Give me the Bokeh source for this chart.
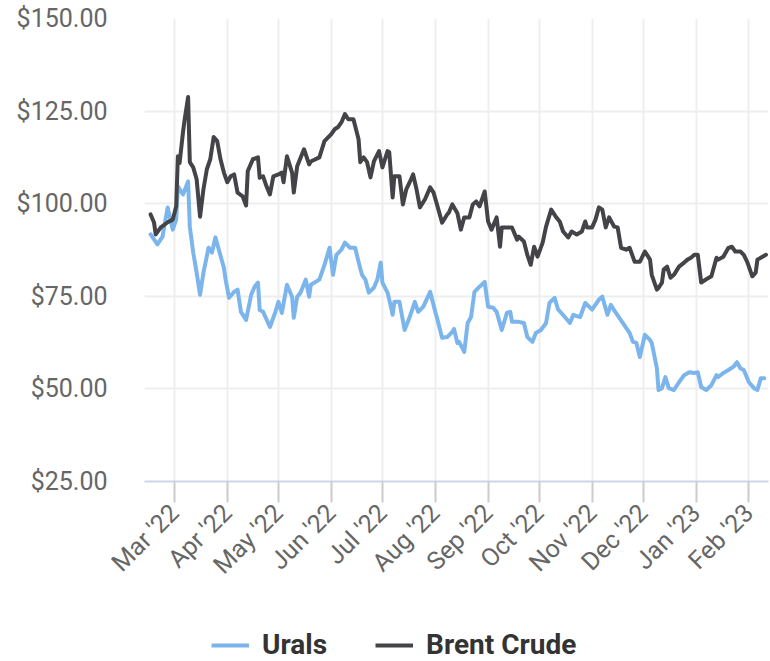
import pandas as pd
from bokeh.plotting import figure
from bokeh.layouts import column
from bokeh.models import (Range1d, MonthsTicker, DatetimeTickFormatter, NumeralTickFormatter,
                          FixedTicker, Legend, LegendItem, ColumnDataSource)
from bokeh.embed import file_html
from bokeh.resources import INLINE

# ---------------- data ----------------
urals_dates = [
    "2022-02-15", "2022-02-19", "2022-02-22", "2022-02-25", "2022-02-27", "2022-02-28", "2022-03-02",
    "2022-03-03", "2022-03-06", "2022-03-09", "2022-03-10", "2022-03-12", "2022-03-14", "2022-03-16",
    "2022-03-18", "2022-03-21", "2022-03-23", "2022-03-25", "2022-03-27", "2022-03-30", "2022-03-31",
    "2022-04-02", "2022-04-05", "2022-04-07", "2022-04-09", "2022-04-12", "2022-04-15", "2022-04-17",
    "2022-04-19", "2022-04-20", "2022-04-22", "2022-04-26", "2022-04-29", "2022-05-01", "2022-05-03",
    "2022-05-06", "2022-05-09", "2022-05-10", "2022-05-12", "2022-05-14", "2022-05-17", "2022-05-19",
    "2022-05-20", "2022-05-25", "2022-05-28", "2022-05-31", "2022-06-02", "2022-06-04", "2022-06-07",
    "2022-06-09", "2022-06-12", "2022-06-15", "2022-06-17", "2022-06-19", "2022-06-21", "2022-06-23",
    "2022-06-26", "2022-06-28", "2022-06-30", "2022-07-01", "2022-07-04", "2022-07-05", "2022-07-07",
    "2022-07-08", "2022-07-11", "2022-07-14", "2022-07-17", "2022-07-20", "2022-07-22", "2022-07-25",
    "2022-07-29", "2022-08-01", "2022-08-02", "2022-08-05", "2022-08-08", "2022-08-11", "2022-08-12",
    "2022-08-14", "2022-08-15", "2022-08-18", "2022-08-20", "2022-08-22", "2022-08-24", "2022-08-27",
    "2022-08-30", "2022-09-01", "2022-09-04", "2022-09-06", "2022-09-09", "2022-09-12", "2022-09-14",
    "2022-09-15", "2022-09-19", "2022-09-22", "2022-09-24", "2022-09-27", "2022-09-29", "2022-10-02",
    "2022-10-05", "2022-10-07", "2022-10-10", "2022-10-12", "2022-10-16", "2022-10-19", "2022-10-21",
    "2022-10-25", "2022-10-28", "2022-11-01", "2022-11-05", "2022-11-07", "2022-11-10", "2022-11-12",
    "2022-11-15", "2022-11-19", "2022-11-23", "2022-11-25", "2022-11-27", "2022-11-29", "2022-12-02",
    "2022-12-05", "2022-12-06", "2022-12-09", "2022-12-10", "2022-12-12", "2022-12-14", "2022-12-16",
    "2022-12-19", "2022-12-22", "2022-12-25", "2022-12-28", "2022-12-31", "2023-01-02", "2023-01-04",
    "2023-01-07", "2023-01-10", "2023-01-13", "2023-01-14", "2023-01-17", "2023-01-20", "2023-01-23",
    "2023-01-25", "2023-01-27", "2023-01-29", "2023-02-01", "2023-02-04", "2023-02-06", "2023-02-08",
    "2023-02-10",
]
urals_values = [
    91.7, 89.0, 91.1, 99.0, 94.9, 93.0, 95.7,
    104.7, 102.5, 106.0, 93.8, 86.8, 81.4, 75.4,
    81.4, 88.1, 86.8, 90.9, 87.6, 82.7, 79.5,
    74.6, 76.2, 76.8, 70.8, 68.6, 75.4, 77.6,
    78.7, 71.3, 70.8, 66.7, 70.5, 73.5, 70.5,
    78.1, 74.9, 69.2, 74.9, 76.0, 79.5, 74.9,
    78.1, 79.5, 83.5, 88.1, 80.8, 86.2, 87.6,
    89.5, 88.1, 88.1, 84.3, 80.8, 79.5, 76.0,
    77.3, 79.5, 84.1, 78.7, 76.0, 74.1, 70.0,
    73.5, 73.5, 65.9, 69.4, 73.5, 70.8, 72.2,
    76.2, 70.8, 69.2, 63.8, 64.0, 65.4, 66.2,
    62.4, 62.7, 60.0, 67.8, 69.4, 76.2, 77.6,
    78.9, 72.2, 71.9, 70.8, 65.9, 70.5, 70.8,
    68.1, 68.1, 67.8, 64.0, 62.7, 65.1, 65.9,
    67.8, 73.2, 74.6, 71.5, 69.4, 67.8, 70.0,
    69.4, 73.2, 71.4, 74.1, 74.9, 70.0, 72.7,
    70.5, 67.8, 65.1, 62.7, 62.4, 58.6, 64.6,
    63.2, 62.4, 55.6, 49.7, 50.2, 53.2, 50.2,
    49.7, 51.8, 53.7, 54.5, 54.3, 54.5, 50.5,
    49.7, 51.0, 53.7, 53.2, 54.3, 55.1, 56.0,
    57.2, 55.6, 55.1, 51.8, 50.2, 49.7, 52.9,
    52.9,
]

brent_dates = [
    "2022-02-15", "2022-02-17", "2022-02-18", "2022-02-21", "2022-02-25", "2022-02-28", "2022-03-02",
    "2022-03-03", "2022-03-04", "2022-03-06", "2022-03-07", "2022-03-09", "2022-03-10", "2022-03-12",
    "2022-03-14", "2022-03-16", "2022-03-18", "2022-03-20", "2022-03-22", "2022-03-24", "2022-03-26",
    "2022-03-28", "2022-03-30", "2022-04-01", "2022-04-03", "2022-04-05", "2022-04-07", "2022-04-10",
    "2022-04-12", "2022-04-13", "2022-04-16", "2022-04-19", "2022-04-20", "2022-04-22", "2022-04-24",
    "2022-04-26", "2022-04-28", "2022-05-01", "2022-05-03", "2022-05-04", "2022-05-06", "2022-05-09",
    "2022-05-10", "2022-05-12", "2022-05-16", "2022-05-19", "2022-05-20", "2022-05-25", "2022-05-28",
    "2022-06-01", "2022-06-03", "2022-06-05", "2022-06-07", "2022-06-09", "2022-06-11", "2022-06-14",
    "2022-06-17", "2022-06-18", "2022-06-20", "2022-06-22", "2022-06-24", "2022-06-26", "2022-06-29",
    "2022-07-01", "2022-07-04", "2022-07-05", "2022-07-07", "2022-07-08", "2022-07-11", "2022-07-13",
    "2022-07-15", "2022-07-17", "2022-07-19", "2022-07-21", "2022-07-23", "2022-07-26", "2022-07-29",
    "2022-07-31", "2022-08-02", "2022-08-05", "2022-08-08", "2022-08-09", "2022-08-11", "2022-08-14",
    "2022-08-16", "2022-08-18", "2022-08-21", "2022-08-23", "2022-08-25", "2022-08-27", "2022-08-30",
    "2022-09-01", "2022-09-03", "2022-09-06", "2022-09-08", "2022-09-09", "2022-09-12", "2022-09-15",
    "2022-09-18", "2022-09-19", "2022-09-22", "2022-09-24", "2022-09-26", "2022-09-28", "2022-09-30",
    "2022-10-03", "2022-10-05", "2022-10-08", "2022-10-11", "2022-10-13", "2022-10-15", "2022-10-18",
    "2022-10-20", "2022-10-23", "2022-10-26", "2022-10-28", "2022-10-29", "2022-11-01", "2022-11-03",
    "2022-11-05", "2022-11-07", "2022-11-09", "2022-11-11", "2022-11-14", "2022-11-16", "2022-11-18",
    "2022-11-21", "2022-11-23", "2022-11-26", "2022-11-29", "2022-12-02", "2022-12-05", "2022-12-06",
    "2022-12-09", "2022-12-10", "2022-12-12", "2022-12-13", "2022-12-15", "2022-12-17", "2022-12-19",
    "2022-12-22", "2022-12-25", "2022-12-27", "2022-12-29", "2022-12-31", "2023-01-02", "2023-01-04",
    "2023-01-07", "2023-01-10", "2023-01-13", "2023-01-14", "2023-01-17", "2023-01-20", "2023-01-22",
    "2023-01-24", "2023-01-27", "2023-01-29", "2023-01-31", "2023-02-03", "2023-02-05", "2023-02-06",
    "2023-02-09", "2023-02-11",
]
brent_values = [
    97.1, 94.9, 91.7, 93.6, 95.0, 95.7, 99.3,
    112.8, 111.0, 119.3, 122.8, 128.8, 111.2, 109.8,
    106.6, 96.5, 103.9, 109.3, 112.0, 118.0, 117.0,
    112.0, 108.4, 105.8, 107.4, 107.9, 103.0, 102.0,
    99.5, 108.8, 112.0, 112.5, 107.0, 107.4, 104.7,
    102.5, 107.4, 107.9, 108.4, 105.8, 112.8, 108.4,
    103.0, 110.1, 114.7, 110.6, 111.4, 112.5, 116.9,
    118.8, 120.1, 120.7, 122.0, 124.2, 122.8, 122.8,
    117.4, 111.2, 112.5, 111.2, 107.1, 111.4, 114.2,
    109.8, 114.2, 113.9, 101.7, 107.4, 107.4, 99.8,
    103.9, 105.8, 107.9, 103.9, 99.0, 101.2, 104.4,
    103.0, 99.8, 94.9, 97.1, 97.6, 99.8, 97.4,
    93.0, 96.3, 96.3, 99.8, 100.6, 99.3, 103.3,
    95.2, 93.0, 96.3, 88.4, 93.6, 93.6, 93.6,
    90.3, 91.1, 89.8, 86.2, 83.5, 88.4, 85.7,
    89.5, 93.8, 98.4, 96.3, 95.2, 92.5, 90.9,
    92.5, 91.7, 92.5, 95.2, 93.6, 93.6, 95.7,
    99.0, 98.4, 93.6, 96.3, 93.8, 93.6, 88.1,
    87.6, 88.1, 84.3, 84.3, 87.1, 84.9, 80.8,
    76.8, 77.3, 78.7, 82.2, 83.0, 80.0, 80.8,
    83.0, 84.1, 84.9, 85.4, 86.2, 86.2, 78.7,
    79.6, 80.4, 85.4, 84.9, 85.7, 88.1, 88.4,
    87.1, 87.1, 86.2, 84.3, 80.4, 81.4, 84.9,
    85.7, 86.2,
]

y_ticks = [25, 50, 75, 100, 125, 150]
series_names = ["Urals", "Brent Crude"]
series_colors = ["#7cb5ec", "#434348"]

# ---------------- main chart ----------------
p = figure(
    width=770, height=610,
    x_axis_type="datetime",
    x_range=Range1d(pd.Timestamp("2022-02-11 10:00"), pd.Timestamp("2023-02-12 12:00")),
    y_range=Range1d(25, 150),
    output_backend="svg", toolbar_location=None,
    min_border_left=144, min_border_right=2, min_border_top=18, min_border_bottom=129,
)
p.outline_line_color = None
p.background_fill_color = "white"
p.border_fill_color = "white"

src_u = ColumnDataSource(dict(x=pd.to_datetime(urals_dates), y=urals_values))
src_b = ColumnDataSource(dict(x=pd.to_datetime(brent_dates), y=brent_values))

line_style = dict(line_width=4, line_join="round", line_cap="round")
p.line("x", "y", source=src_u, line_color=series_colors[0], **line_style)
p.line("x", "y", source=src_b, line_color=series_colors[1], **line_style)

month_ticker = MonthsTicker(months=list(range(1, 13)))
xa = p.xaxis[0]
xa.ticker = month_ticker
xa.formatter = DatetimeTickFormatter(days="%b '%y", months="%b '%y", years="%b '%y")
xa.major_label_orientation = 0.785398
xa.axis_line_color = "#ccd6eb"
xa.axis_line_width = 2
xa.major_tick_line_color = "#cccccc"
xa.major_tick_line_width = 2
xa.major_tick_out = 21
xa.major_tick_in = 0
xa.minor_tick_line_color = None
xa.major_label_standoff = 6
xa.major_label_text_font = "Roboto"
xa.major_label_text_font_size = "25px"
xa.major_label_text_color = "#666666"

ya = p.yaxis[0]
ya.ticker = FixedTicker(ticks=y_ticks)
ya.formatter = NumeralTickFormatter(format="$0,0.00")
ya.axis_line_color = None
ya.major_tick_line_color = None
ya.minor_tick_line_color = None
ya.major_tick_out = 0
ya.major_tick_in = 0
ya.major_label_standoff = 37
ya.major_label_text_font = "Roboto"
ya.major_label_text_font_size = "25px"
ya.major_label_text_color = "#666666"

p.xgrid.ticker = month_ticker
p.xgrid.grid_line_color = "#eeeeee"
p.xgrid.grid_line_width = 2
p.ygrid.grid_line_color = "#eeeeee"
p.ygrid.grid_line_width = 2

# ---------------- legend strip (its own lines lie outside its view) ----------------
lg = figure(width=770, height=51, output_backend="svg", toolbar_location=None,
            x_range=Range1d(0, 1), y_range=Range1d(0, 1),
            x_axis_location=None, y_axis_location=None,
            min_border_left=0, min_border_right=0, min_border_top=0, min_border_bottom=0)
lg.outline_line_color = None
lg.xgrid.visible = False
lg.ygrid.visible = False
lu = lg.line("x", "y", source=src_u, line_color=series_colors[0], line_width=4)
lb = lg.line("x", "y", source=src_b, line_color=series_colors[1], line_width=4)

legend = Legend(
    items=[LegendItem(label=series_names[0], renderers=[lu]),
           LegendItem(label=series_names[1], renderers=[lb])],
    orientation="horizontal",
    location=(67, 0),
    label_text_font="Roboto", label_text_font_style="bold",
    label_text_font_size="28px", label_text_color="#333333",
    glyph_width=38, glyph_height=26, label_height=26, label_standoff=13, spacing=48,
    padding=0, margin=0, border_line_color=None, background_fill_alpha=0,
)
lg.add_layout(legend)

open("out.html", "w").write(file_html(column(p, lg, spacing=0), INLINE))
